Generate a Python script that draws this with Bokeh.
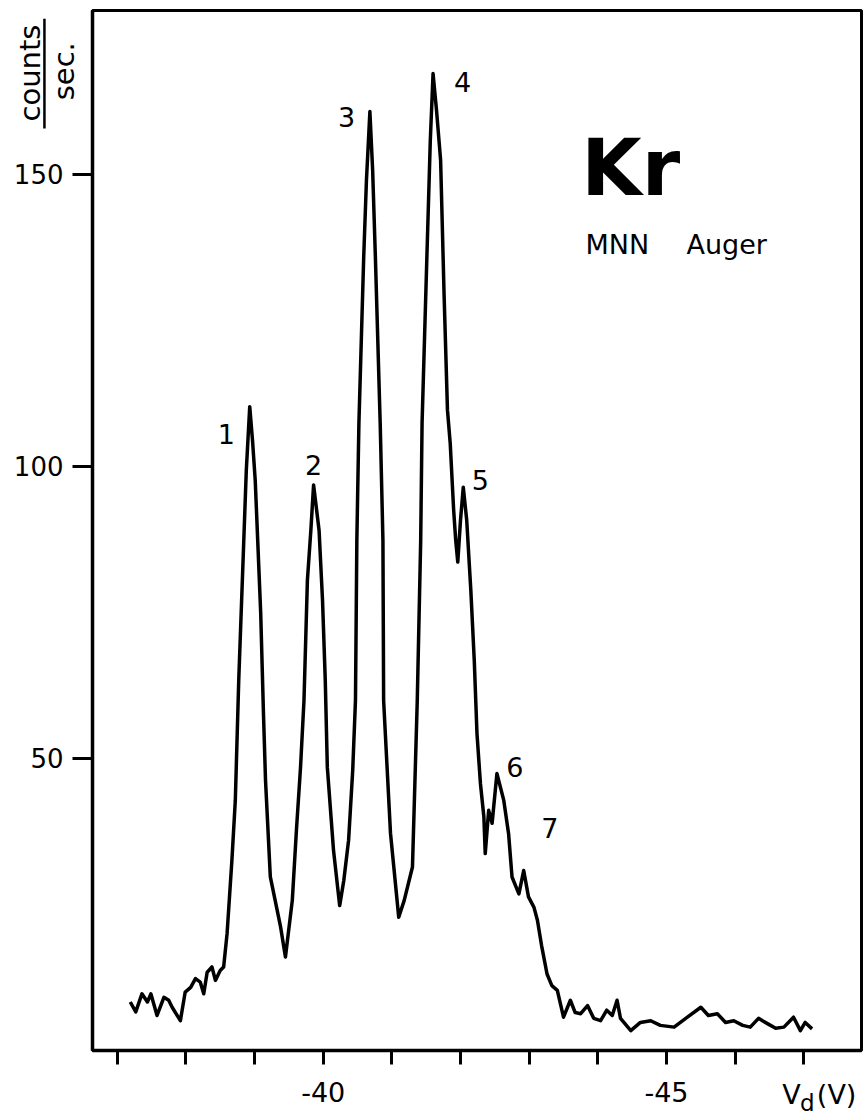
from math import pi
from bokeh.plotting import figure
from bokeh.models import Range1d, FixedTicker, Label, GridBox
from bokeh.core.properties import value
from bokeh.embed import file_html
from bokeh.resources import INLINE

# ---- data (drift voltage V_d in volts, counts per second) ----
voltage = [
    -37.19, -37.27, -37.36, -37.44, -37.49, -37.58, -37.68, -37.75, -37.80, -37.92,
    -37.99, -38.07, -38.14, -38.21, -38.26, -38.31, -38.38, -38.43, -38.50, -38.55,
    -38.60, -38.67, -38.72, -38.77, -38.84, -38.88, -38.93, -38.97, -39.01, -39.09,
    -39.13, -39.16, -39.23, -39.38, -39.45, -39.55, -39.61, -39.67, -39.72, -39.77,
    -39.82, -39.86, -39.94, -39.99, -40.03, -40.06, -40.15, -40.24, -40.30, -40.37,
    -40.43, -40.47, -40.49, -40.52, -40.59, -40.63, -40.68, -40.72, -40.76, -40.83,
    -40.87, -40.88, -40.98, -41.10, -41.18, -41.30, -41.37, -41.42, -41.44, -41.51,
    -41.56, -41.60, -41.65, -41.71, -41.76, -41.81, -41.85, -41.90, -41.93, -41.96,
    -42.00, -42.04, -42.09, -42.15, -42.20, -42.24, -42.29, -42.34, -42.36, -42.41,
    -42.46, -42.53, -42.63, -42.70, -42.75, -42.85, -42.92, -42.99, -43.07, -43.12,
    -43.18, -43.26, -43.33, -43.41, -43.50, -43.60, -43.67, -43.75, -43.85, -43.94,
    -44.04, -44.13, -44.21, -44.28, -44.33, -44.48, -44.62, -44.77, -44.91, -45.11,
    -45.28, -45.50, -45.61, -45.74, -45.86, -45.98, -46.11, -46.22, -46.34, -46.47,
    -46.59, -46.71, -46.85, -46.95, -47.02, -47.12,
]
counts = [
    8.3, 6.6, 9.7, 8.3, 9.7, 6.0, 9.1, 8.6, 7.4, 5.1,
    10.0, 10.8, 12.3, 11.7, 9.7, 13.4, 14.3, 12.0, 13.7, 14.3,
    20.0, 32.5, 42.8, 63.4, 86.2, 99.3, 110.2, 104.5, 97.6, 74.8,
    57.7, 46.2, 29.7, 21.1, 16.0, 25.7, 37.7, 48.5, 59.9, 80.5,
    89.0, 96.8, 89.0, 77.1, 63.4, 48.5, 34.3, 24.8, 29.1, 36.0,
    48.0, 59.9, 87.3, 107.3, 135.8, 149.0, 160.7, 150.7, 135.8, 107.4,
    87.3, 59.9, 37.2, 22.8, 25.7, 31.4, 59.9, 87.3, 107.4, 135.8,
    155.8, 167.2, 161.0, 152.4, 129.6, 109.6, 103.9, 92.5, 87.3, 83.6,
    90.8, 96.4, 90.8, 78.8, 66.8, 54.2, 45.7, 40.0, 33.7, 41.1,
    38.9, 47.4, 42.8, 37.1, 29.7, 26.8, 30.8, 26.3, 24.5, 22.3,
    18.0, 13.1, 11.1, 10.3, 5.7, 8.6, 6.5, 6.3, 7.7, 5.5,
    5.1, 6.9, 6.0, 8.6, 5.5, 3.4, 4.8, 5.1, 4.3, 4.0,
    5.5, 7.4, 6.0, 6.3, 4.8, 5.1, 4.3, 4.0, 5.5, 4.6,
    3.8, 4.0, 5.7, 3.4, 4.8, 3.7,
]

x_ticks = [-37, -38, -39, -40, -41, -42, -43, -44, -45, -46, -47]
x_tick_labels = {-40: "-40", -45: "-45"}
y_ticks = [50, 100, 150]

peak_names = ["1", "2", "3", "4", "5", "6", "7"]
peak_label_x = [-38.59, -39.86, -40.34, -42.03, -42.29, -42.79, -43.30]
peak_label_y = [105.5, 100.2, 159.8, 165.8, 97.6, 48.6, 38.0]

FONT = "DejaVu Sans"
W, H = 864, 1117
BL, BR, BT, BB = 92, 3, 10, 67          # frame borders (px)
X0, X1 = -36.64, -47.84                 # reversed voltage axis
Y0, Y1 = 0, 178

p = figure(
    width=W, height=H,
    x_range=Range1d(X0, X1), y_range=Range1d(Y0, Y1),
    output_backend="svg", toolbar_location=None,
    min_border_left=BL, min_border_right=BR, min_border_top=BT, min_border_bottom=BB,
)
p.background_fill_color = "white"
p.border_fill_color = "white"
p.xgrid.visible = False
p.ygrid.visible = False
p.outline_line_color = "black"
p.outline_line_width = 3

xa = p.xaxis[0]
xa.ticker = FixedTicker(ticks=x_ticks)
xa.major_label_overrides = {t: x_tick_labels.get(t, "") for t in x_ticks}
xa.minor_tick_line_color = None
xa.major_tick_in = 0
xa.major_tick_out = 14
xa.major_tick_line_width = 3
xa.axis_line_width = 3.5
xa.major_label_standoff = 17
xa.major_label_text_font = FONT
xa.major_label_text_font_size = "27px"
xa.major_label_text_color = "black"

ya = p.yaxis[0]
ya.ticker = FixedTicker(ticks=y_ticks)
ya.minor_tick_line_color = None
ya.major_tick_in = 0
ya.major_tick_out = 20
ya.major_tick_line_width = 3
ya.axis_line_width = 3.5
ya.major_label_standoff = 9
ya.major_label_text_font = FONT
ya.major_label_text_font_size = "26px"
ya.major_label_text_color = "black"

p.line(voltage, counts, line_color="black", line_width=3.5, line_join="round")

p.text(x=peak_label_x, y=peak_label_y, text=peak_names,
       text_font=value(FONT), text_font_size="27px", text_color="black",
       text_align="center", text_baseline="middle")

p.add_layout(Label(x=-44.48, y=151.0, text="Kr", text_font=FONT, text_font_size="78px",
                   text_font_style="bold", text_align="center", text_baseline="middle",
                   text_color="black"))
p.add_layout(Label(x=-43.82, y=138.0, text="MNN", text_font=FONT, text_font_size="27px",
                   text_align="left", text_baseline="middle", text_color="black"))
p.add_layout(Label(x=-45.29, y=138.0, text="Auger", text_font=FONT, text_font_size="27px",
                   text_align="left", text_baseline="middle", text_color="black"))

# ---- transparent overlay covering the whole canvas, same data scale, for unit texts ----
px_per_x = (W - BL - BR) / (X0 - X1)
px_per_y = (H - BT - BB) / (Y1 - Y0)
ov = figure(
    width=W, height=H,
    x_range=Range1d(X0 + BL / px_per_x, X1 - BR / px_per_x),
    y_range=Range1d(Y0 - BB / px_per_y, Y1 + BT / px_per_y),
    x_axis_location=None, y_axis_location=None,
    output_backend="svg", toolbar_location=None, min_border=0,
)
ov.background_fill_color = None
ov.border_fill_color = None
ov.outline_line_color = None
ov.xgrid.visible = False
ov.ygrid.visible = False
for fig in (p, ov):
    try:
        fig.frame_align = False
    except Exception:
        pass

# y unit: counts / sec. as a rotated fraction
ov.text(x=[-35.73, -36.22], y=[167.3, 167.6], text=["counts", "sec."], angle=pi / 2,
        text_font=value(FONT), text_font_size="29px", text_color="black",
        text_align="center", text_baseline="middle")
ov.segment(x0=[-35.94], y0=[157.8], x1=[-35.94], y1=[176.6], line_color="black", line_width=2.5)

# x unit: V_d (V)
ov.text(x=[-46.82], y=[-7.5], text=["V"], text_font=value(FONT), text_font_size="27px",
        text_color="black", text_align="center", text_baseline="middle")
ov.text(x=[-47.05], y=[-8.9], text=["d"], text_font=value(FONT), text_font_size="23px",
        text_color="black", text_align="center", text_baseline="middle")
ov.text(x=[-47.19], y=[-7.5], text=["(V)"], text_font=value(FONT), text_font_size="27px",
        text_color="black", text_align="left", text_baseline="middle")

grid = GridBox(children=[(p, 0, 0), (ov, 0, 0)])

open("out.html", "w").write(file_html(grid, INLINE))
